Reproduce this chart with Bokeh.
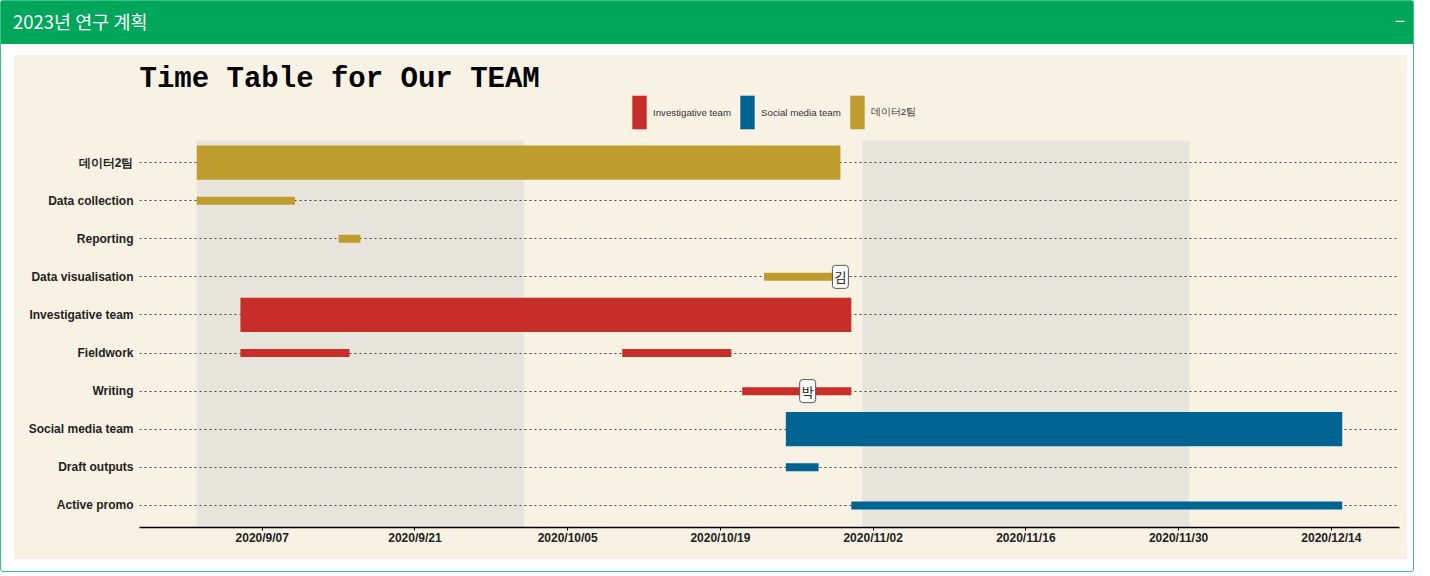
import pandas as pd
from bokeh.plotting import figure
from bokeh.models import (ColumnDataSource, FactorRange, Range1d, FixedTicker,
                          BoxAnnotation, Legend, LegendItem, Div, Label)
from bokeh.layouts import column, row
from bokeh.embed import file_html
from bokeh.resources import INLINE
from bokeh.core.properties import value

# ---------------- data ----------------
tasks = ["데이터2팀", "Data collection", "Reporting", "Data visualisation",
         "Investigative team", "Fieldwork", "Writing",
         "Social media team", "Draft outputs", "Active promo"]

teams = ["Investigative team", "Social media team", "데이터2팀"]
team_colors = ["#c72e29", "#016392", "#be9c2e"]

seg_team = ["데이터2팀", "데이터2팀", "데이터2팀", "데이터2팀",
            "Investigative team", "Investigative team", "Investigative team", "Investigative team",
            "Social media team", "Social media team", "Social media team"]
seg_task = ["데이터2팀", "Data collection", "Reporting", "Data visualisation",
            "Investigative team", "Fieldwork", "Fieldwork", "Writing",
            "Social media team", "Draft outputs", "Active promo"]
seg_start = ["2020-09-01", "2020-09-01", "2020-09-14", "2020-10-23",
             "2020-09-05", "2020-09-05", "2020-10-10", "2020-10-21",
             "2020-10-25", "2020-10-25", "2020-10-31"]
seg_end = ["2020-10-30", "2020-09-10", "2020-09-16", "2020-10-30",
           "2020-10-31", "2020-09-15", "2020-10-20", "2020-10-31",
           "2020-12-15", "2020-10-28", "2020-12-15"]
seg_is_team = [True, False, False, False,
               True, False, False, False,
               True, False, False]

label_text = ["김", "박"]
label_task = ["Data visualisation", "Writing"]
label_date = ["2020-10-30", "2020-10-27"]

shade_start = ["2020-09-01", "2020-11-01"]
shade_end = ["2020-10-01", "2020-12-01"]

tick_labels = ["2020/9/07", "2020/9/21", "2020/10/05", "2020/10/19",
               "2020/11/02", "2020/11/16", "2020/11/30", "2020/12/14"]

title_text = "Time Table for Our TEAM"
box_title = "2023년 연구 계획"


def ms(d):
    return pd.Timestamp(d).value / 1e6


BG = "#f8f2e4"
FIG_W = 1393
TOP_H = 85
MAIN_H = 419
MB_L, MB_R, MB_B = 125, 8, 32

x_range = Range1d(pd.Timestamp("2020-08-26 18:00"), pd.Timestamp("2020-12-20 06:00"))
y_range = FactorRange(factors=list(reversed(tasks)), range_padding=0.08,
                      range_padding_units="absolute")

sources = {}
for team in teams:
    idx = [i for i, tt in enumerate(seg_team) if tt == team]
    sources[team] = ColumnDataSource(dict(
        y=[seg_task[i] for i in idx],
        left=[pd.Timestamp(seg_start[i]) for i in idx],
        right=[pd.Timestamp(seg_end[i]) for i in idx],
        h=[0.9 if seg_is_team[i] else 0.21 for i in idx],
    ))

# ---------------- top strip: title + legend ----------------
t = figure(width=FIG_W, height=TOP_H, output_backend="svg", toolbar_location=None,
           x_range=x_range, y_range=y_range,
           x_axis_location=None, y_axis_location=None,
           min_border=0, min_border_left=0, min_border_right=0,
           min_border_top=0, min_border_bottom=0)
t.background_fill_color = BG
t.border_fill_color = BG
t.outline_line_color = None
t.grid.visible = False

t.add_layout(Label(x=0, y=61, x_units="screen", y_units="screen", text=title_text,
                   text_font="Liberation Mono", text_font_style="bold", text_font_size="29px",
                   text_color="black", text_align="left", text_baseline="alphabetic"))

leg_renderers = []
for team, col in zip(teams, team_colors):
    leg_renderers.append(t.hbar(y="y", left="left", right="right", height="h",
                                source=sources[team], fill_color=col, line_color=None,
                                visible=False))

legend = Legend(items=[LegendItem(label=tm, renderers=[r]) for tm, r in zip(teams, leg_renderers)],
                orientation="horizontal", location=(491, 7),
                glyph_width=18, glyph_height=42, label_text_font_size="9.7px",
                label_text_font="Liberation Sans", label_text_color="#333333",
                label_standoff=5, spacing=7, padding=0, margin=0,
                background_fill_alpha=0, border_line_color=None)
t.add_layout(legend)

# ---------------- main chart ----------------
p = figure(width=FIG_W, height=MAIN_H, output_backend="svg", toolbar_location=None,
           x_axis_type="datetime", title=None, x_range=x_range, y_range=y_range,
           min_border_left=MB_L, min_border_right=MB_R, min_border_bottom=MB_B,
           min_border_top=0)
p.background_fill_color = BG
p.border_fill_color = BG
p.outline_line_color = None

for s, e in zip(shade_start, shade_end):
    p.add_layout(BoxAnnotation(left=ms(s), right=ms(e), fill_color="#e8e5dc",
                               fill_alpha=1.0, line_color=None, level="image"))

for team, col in zip(teams, team_colors):
    p.hbar(y="y", left="left", right="right", height="h", source=sources[team],
           fill_color=col, line_color=None)

lsrc = ColumnDataSource(dict(x=[pd.Timestamp(d) for d in label_date], y=label_task, text=label_text))
p.text(x="x", y="y", text="text", source=lsrc, text_align="center", text_baseline="middle",
       text_font=value("Noto Sans CJK KR"), text_font_size="13px", text_color="#222222",
       background_fill_color="white", border_line_color="#555555", border_line_width=1,
       padding=2, border_radius=3)

p.xgrid.grid_line_color = None
p.ygrid.grid_line_color = "#444444"
p.ygrid.grid_line_dash = "2 3"
p.ygrid.grid_line_width = 1

xa = p.xaxis[0]
ticks = [ms(pd.Timestamp(l.replace("/", "-"))) for l in tick_labels]
xa.ticker = FixedTicker(ticks=ticks)
xa.major_label_overrides = {tk: l for tk, l in zip(ticks, tick_labels)}
xa.axis_line_color = "black"
xa.axis_line_width = 1.5
xa.major_tick_line_color = "black"
xa.major_tick_in = 0
xa.major_tick_out = 3
xa.minor_tick_line_color = None
xa.major_label_text_font = "Liberation Sans"
xa.major_label_text_font_style = "bold"
xa.major_label_text_font_size = "12px"
xa.major_label_text_color = "#222222"
xa.major_label_standoff = 0

ya = p.yaxis[0]
ya.axis_line_color = None
ya.major_tick_line_color = None
ya.minor_tick_line_color = None
ya.major_label_text_font = "Liberation Sans"
ya.major_label_text_font_style = "bold"
ya.major_label_text_font_size = "12px"
ya.major_label_text_color = "#222222"
ya.major_label_standoff = 0

# ---------------- box frame ----------------
header = Div(
    text=("<div style=\"display:flex;justify-content:space-between;align-items:center;"
          "width:1412px;box-sizing:border-box;"
          "height:40px;padding:0 8px 0 12px;color:white;font-family:'Noto Sans CJK KR',sans-serif;"
          "font-size:18.5px;\"><span>" + box_title + "</span><span style='font-size:18px'>&minus;</span></div>"),
    width=1412, height=43, margin=0,
    styles={"background-color": "#00a65a"})

gap_top = Div(text="", width=1412, height=11, margin=0)
gap_left = Div(text="", width=13, height=TOP_H + MAIN_H, margin=0)
gap_bottom = Div(text="", width=1412, height=12, margin=0)

chart = column(t, p, styles={"background-color": BG})

layout = column(header, gap_top, row(gap_left, chart), gap_bottom,
                styles={"background-color": "white", "border": "1px solid #3fbf8a",
                        "border-radius": "3px"})

open("out.html", "w").write(file_html(layout, INLINE))
